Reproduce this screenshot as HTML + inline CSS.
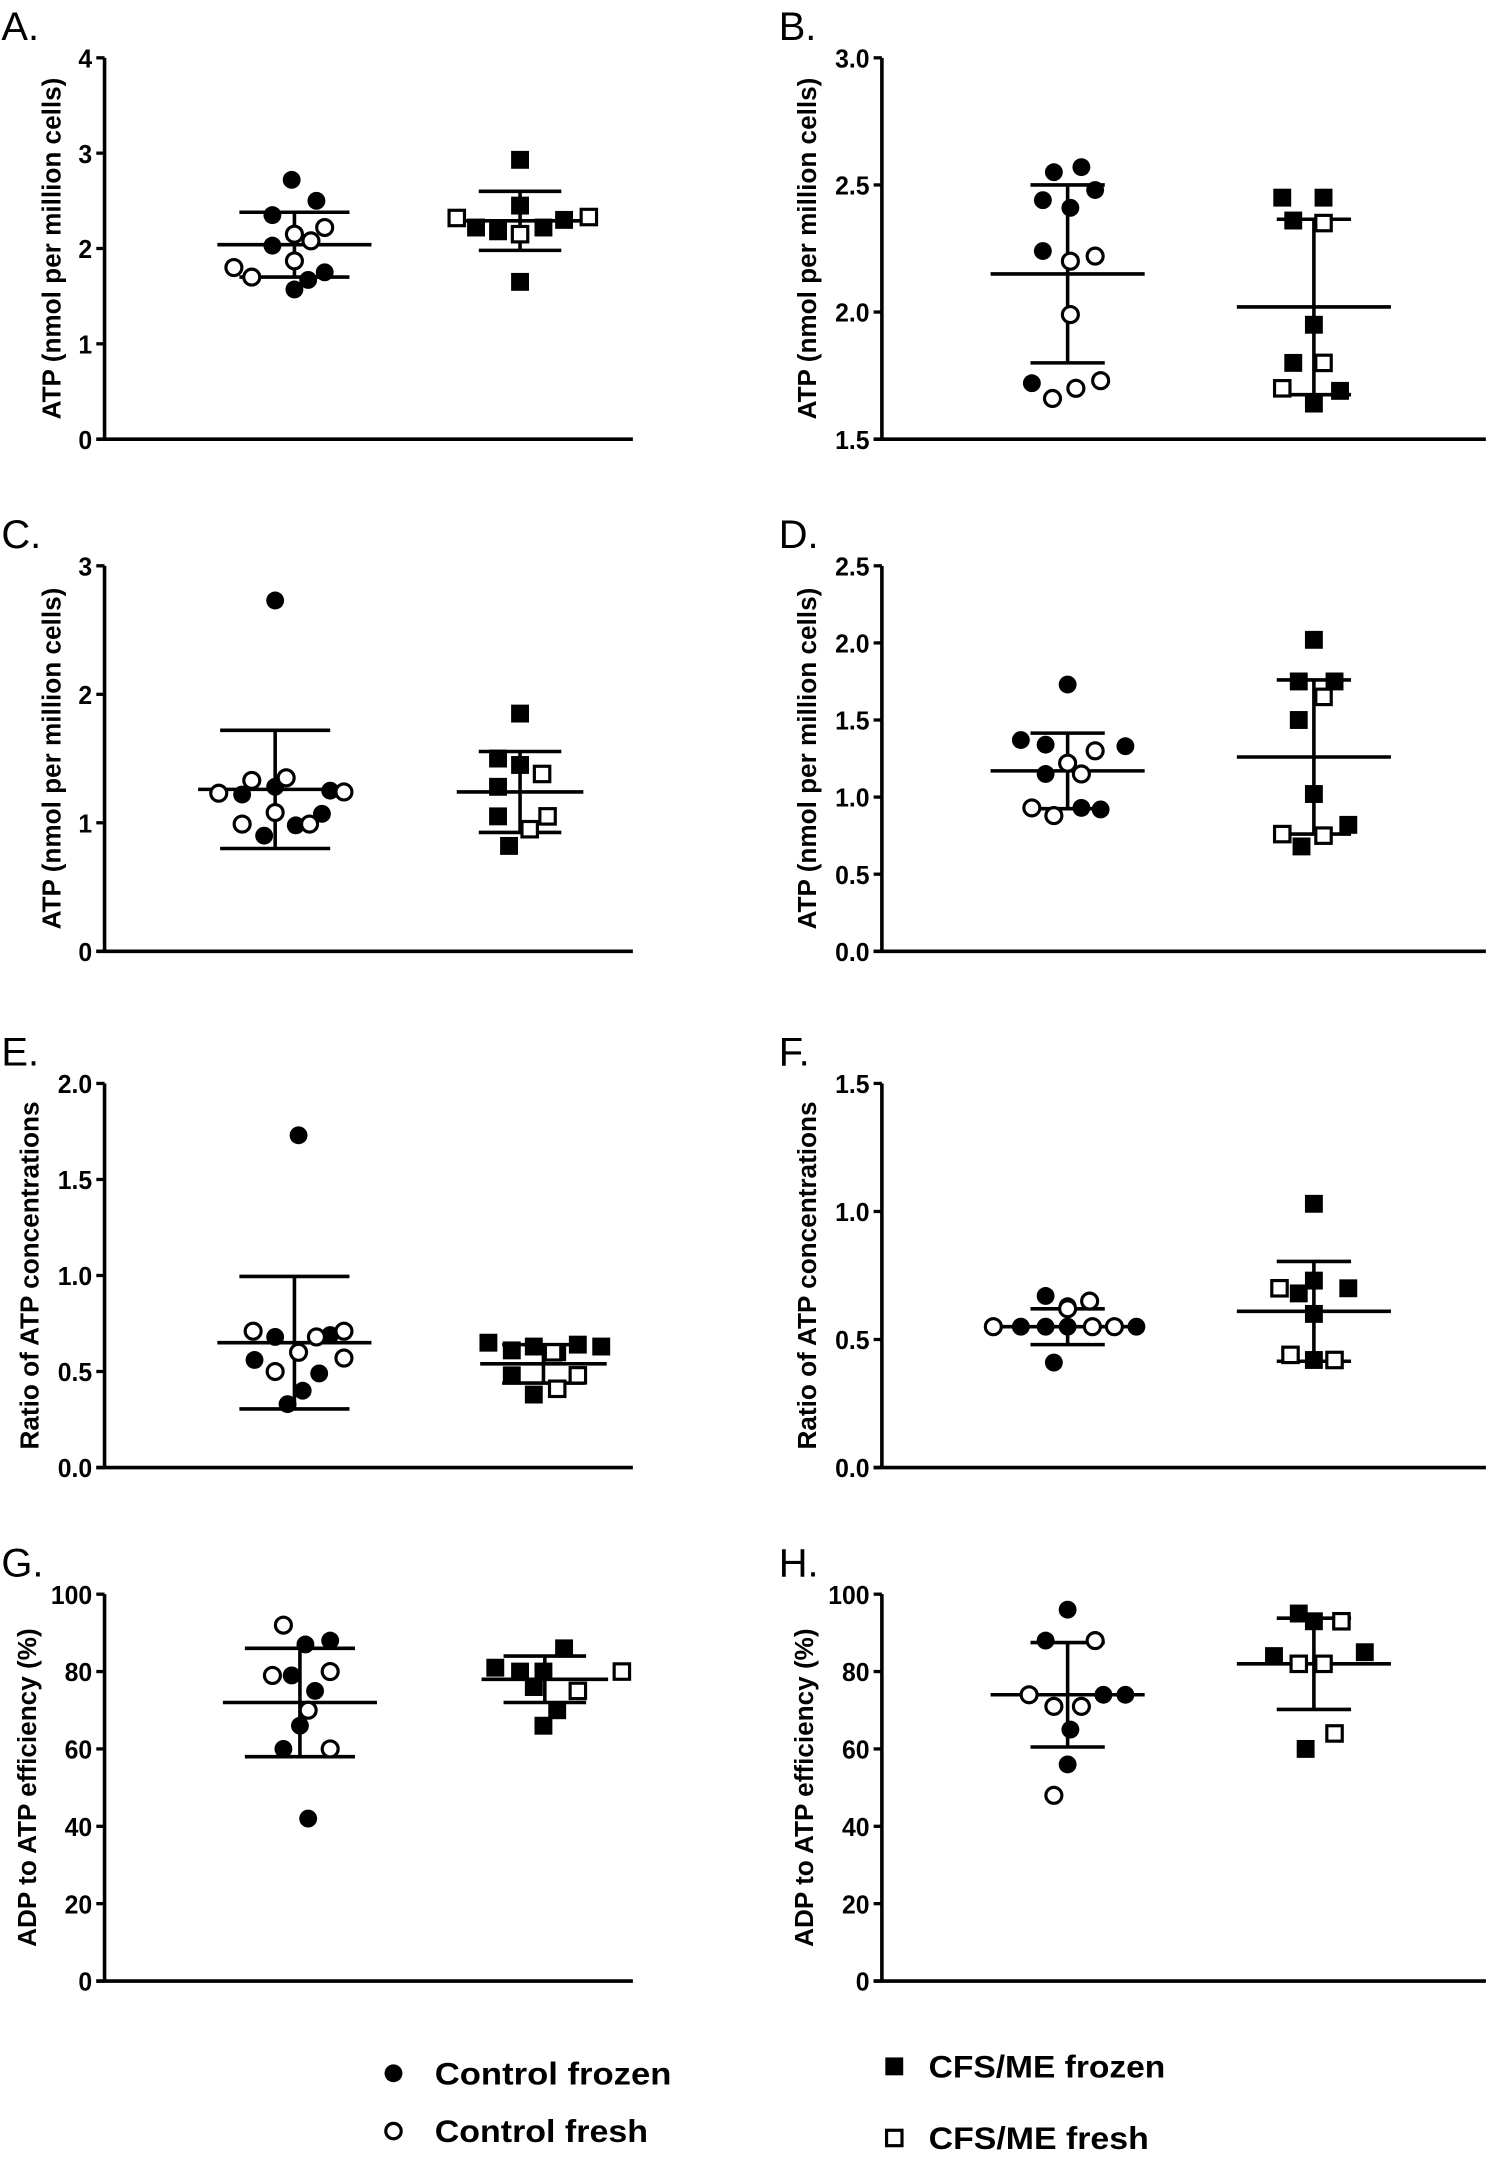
<!DOCTYPE html>
<html><head><meta charset="utf-8"><style>
html,body{margin:0;padding:0;background:#fff;}
svg{display:block;}
text{font-family:"Liberation Sans",sans-serif;font-weight:bold;fill:#000;}
</style></head><body>
<svg id="fig" width="1490" height="2160" viewBox="0 0 1083 1569" preserveAspectRatio="none" xmlns="http://www.w3.org/2000/svg"></svg>
<script>
// ---- data; type: 1 = frozen (filled), 0 = fresh (open) ----
const aCtrlVals=[2.72,2.5,2.35,2.03,1.75,1.67,1.57,2.22,2.15,2.08,1.87,1.8,1.7];
const aCtrlType=[1,1,1,1,1,1,1,0,0,0,0,0,0];
const aCtrlJit=[-2,16,-16,-16,22,10,0,22,0,12,0,-44,-31];
const aCfsVals=[2.93,2.45,2.22,2.18,2.22,2.3,1.65,2.32,2.33,2.15];
const aCfsType=[1,1,1,1,1,1,1,0,0,0];
const aCfsJit=[0,0,-32,-16,17,32,0,-46,50,0];
const aStats=[[2.04,0.34],[2.29,0.31]];

const bCtrlVals=[2.57,2.55,2.48,2.44,2.41,2.24,1.72,2.22,2.2,1.99,1.73,1.70,1.66];
const bCtrlType=[1,1,1,1,1,1,1,0,0,0,0,0,0];
const bCtrlJit=[10,-10,20,-18,2,-18,-26,20,2,2,24,6,-11];
const bCfsVals=[2.45,2.45,2.36,1.95,1.80,1.69,1.64,2.35,1.80,1.70];
const bCfsType=[1,1,1,1,1,1,1,0,0,0];
const bCfsJit=[-23,7,-15,0,-15,19,0,7,7,-23];
const bStats=[[2.15,0.35],[2.02,0.345]];

const cCtrlVals=[2.73,1.22,1.28,1.25,0.9,0.98,1.07,1.23,1.33,1.35,1.24,0.99,1.08,0.99];
const cCtrlType=[1,1,1,1,1,1,1,0,0,0,0,0,0,0];
const cCtrlJit=[0,-24,0,40,-8,15,34,-41,-17,8,50,-24,0,25];
const cCfsVals=[1.85,1.5,1.45,1.28,1.05,0.82,1.38,1.05,0.95];
const cCfsType=[1,1,1,1,1,1,0,0,0];
const cCfsJit=[0,-16,0,-16,-16,-8,16,20,7];
const cStats=[[1.26,0.46],[1.24,0.315]];

const dCtrlVals=[1.73,1.37,1.34,1.33,1.15,0.92,0.93,1.3,1.22,1.15,0.93,0.88];
const dCtrlType=[1,1,1,1,1,1,1,0,0,0,0,0];
const dCtrlJit=[0,-34,-16,42,-16,24,10,20,0,10,-26,-10];
const dCfsVals=[2.02,1.75,1.75,1.5,1.02,0.82,0.68,1.65,0.76,0.75];
const dCfsType=[1,1,1,1,1,1,1,0,0,0];
const dCfsJit=[0,-11,15,-11,0,25,-9,7,-23,7];
const dStats=[[1.17,0.245],[1.26,0.5]];

const eCtrlVals=[1.73,0.68,0.69,0.56,0.49,0.4,0.33,0.71,0.68,0.71,0.6,0.57,0.5];
const eCtrlType=[1,1,1,1,1,1,1,0,0,0,0,0,0];
const eCtrlJit=[3,-14,26,-29,18,6,-5,-30,16,36,3,36,-14];
const eCfsVals=[0.65,0.61,0.63,0.6,0.64,0.63,0.48,0.38,0.6,0.48,0.41];
const eCfsType=[1,1,1,1,1,1,1,1,0,0,0];
const eCfsJit=[-40,-23,-7,10,25,42,-23,-7,7,25,10];
const eStats=[[0.65,0.345],[0.54,0.1]];

const fCtrlVals=[0.67,0.63,0.55,0.55,0.55,0.55,0.41,0.65,0.62,0.55,0.55,0.55];
const fCtrlType=[1,1,1,1,1,1,1,0,0,0,0,0];
const fCtrlJit=[-16,0,-34,-16,0,50,-10,16,0,-54,18,34];
const fCfsVals=[1.03,0.73,0.70,0.60,0.42,0.68,0.70,0.44,0.42];
const fCfsType=[1,1,1,1,1,1,0,0,0];
const fCfsJit=[0,0,25,0,0,-11,-25,-17,15];
const fStats=[[0.55,0.07],[0.61,0.195]];

const gCtrlVals=[88,87,79,75,66,60,42,92,79,80,70,60];
const gCtrlType=[1,1,1,1,1,1,1,0,0,0,0,0];
const gCtrlJit=[22,4,-6,11,0,-12,6,-12,-20,22,6,22];
const gCfsVals=[86,81,80,80,76,70,66,80,75];
const gCfsType=[1,1,1,1,1,1,1,0,0];
const gCfsJit=[14,-36,-18,-1,-8,9,-1,56,24];
const gStats=[[72,14],[78,6]];

const hCtrlVals=[96,88,74,74,65,56,88,74,71,71,48];
const hCtrlType=[1,1,1,1,1,1,0,0,0,0,0];
const hCtrlJit=[0,-16,26,42,2,0,20,-28,-10,10,-10];
const hCfsVals=[95,93,84,85,60,93,82,82,64];
const hCfsType=[1,1,1,1,1,0,0,0,0];
const hCfsJit=[-11,0,-29,37,-6,20,-11,7,15];
const hStats=[[74,13.5],[82,11.8]];

const ticksA=[0,1,2,3,4], ticksB=[1.5,2.0,2.5,3.0], ticksC=[0,1,2,3], ticksD=[0,0.5,1.0,1.5,2.0,2.5];
const ticksE=[0,0.5,1.0,1.5,2.0], ticksF=[0,0.5,1.0,1.5], ticksG=[0,20,40,60,80,100];

// ---- layout ----
const panels=[
 {id:'a',label:'A.',ax:76,top:42,bot:319,min:0,max:4,ticks:ticksA,dec:0,title:'ATP (nmol per million cells)',cx:[214,378],c:[aCtrlVals,aCtrlType,aCtrlJit],s:[aCfsVals,aCfsType,aCfsJit],st:aStats},
 {id:'b',label:'B.',ax:641,top:42,bot:319,min:1.5,max:3,ticks:ticksB,dec:1,title:'ATP (nmol per million cells)',cx:[776,955],c:[bCtrlVals,bCtrlType,bCtrlJit],s:[bCfsVals,bCfsType,bCfsJit],st:bStats},
 {id:'c',label:'C.',ax:76,top:411,bot:691,min:0,max:3,ticks:ticksC,dec:0,title:'ATP (nmol per million cells)',cx:[200,378],c:[cCtrlVals,cCtrlType,cCtrlJit],s:[cCfsVals,cCfsType,cCfsJit],st:cStats},
 {id:'d',label:'D.',ax:641,top:411,bot:691,min:0,max:2.5,ticks:ticksD,dec:1,title:'ATP (nmol per million cells)',cx:[776,955],c:[dCtrlVals,dCtrlType,dCtrlJit],s:[dCfsVals,dCfsType,dCfsJit],st:dStats},
 {id:'e',label:'E.',ax:76,top:787,bot:1066,min:0,max:2,ticks:ticksE,dec:1,title:'Ratio of ATP concentrations',cx:[214,395],c:[eCtrlVals,eCtrlType,eCtrlJit],s:[eCfsVals,eCfsType,eCfsJit],st:eStats},
 {id:'f',label:'F.',ax:641,top:787,bot:1066,min:0,max:1.5,ticks:ticksF,dec:1,title:'Ratio of ATP concentrations',cx:[776,955],c:[fCtrlVals,fCtrlType,fCtrlJit],s:[fCfsVals,fCfsType,fCfsJit],st:fStats},
 {id:'g',label:'G.',ax:76,top:1158,bot:1439,min:0,max:100,ticks:ticksG,dec:0,title:'ADP to ATP efficiency (%)',cx:[218,396],c:[gCtrlVals,gCtrlType,gCtrlJit],s:[gCfsVals,gCfsType,gCfsJit],st:gStats},
 {id:'h',label:'H.',ax:641,top:1158,bot:1439,min:0,max:100,ticks:ticksG,dec:0,title:'ADP to ATP efficiency (%)',cx:[776,955],c:[hCtrlVals,hCtrlType,hCtrlJit],s:[hCfsVals,hCfsType,hCfsJit],st:hStats}
];
const NS='http://www.w3.org/2000/svg';
const svg=document.getElementById('fig');
function mk(tag,attrs,parent){const e=document.createElementNS(NS,tag);for(const k in attrs)e.setAttribute(k,attrs[k]);(parent||svg).appendChild(e);return e;}

panels.forEach(p=>{
 const g=mk('g',{});
 
 
 const y=v=>p.bot-(v-p.min)/(p.max-p.min)*(p.bot-p.top);
 const lab=mk('text',{x:p.ax-75,y:p.top-13,'font-size':29,style:'font-weight:normal'},g);
 lab.textContent=p.label;
 
 
 const yax=mk('line',{x1:p.ax,y1:p.top,x2:p.ax,y2:p.bot+1,stroke:'#000','stroke-width':2.6},g);
 
 
 const xax=mk('line',{x1:p.ax-6,y1:p.bot,x2:p.ax+(p.ax<300?384:439),y2:p.bot,stroke:'#000','stroke-width':2.6},g);
 
 
 p.ticks.forEach(t=>{
  const tk=mk('line',{x1:p.ax-6,y1:y(t),x2:p.ax,y2:y(t),stroke:'#000','stroke-width':2.4},g);
  
  
  const s=t.toFixed(p.dec);
  let w=0;for(const ch of s)w+=(ch==='.'?5:10);
  const tl=mk('text',{x:p.ax-9,y:y(t)+7,'font-size':19,'text-anchor':'end',textLength:w,lengthAdjust:'spacingAndGlyphs'},g);
  tl.textContent=s;
  
  
 });
 const ty=(p.top+p.bot)/2;
 const tx=p.ax-(p.dec?48:(p.max>=100?50:32));
 const tt=mk('text',{x:tx,y:ty,'font-size':19,'text-anchor':'middle',transform:'rotate(-90 '+tx+' '+ty+')'},g);
 tt.textContent=p.title;
 
 
 [p.c,p.s].forEach((grp,gi)=>{
  const cx=p.cx[gi];
  const [m,sd]=p.st[gi];
  const w=gi===0?56:(p.ax<300?46:56);
  const cw=gi===0?(p.ax<300?40:27):(p.ax<300?30:27);
  const st={stroke:'#000','stroke-width':2.6};
  const ml=mk('line',Object.assign({x1:cx-w,y1:y(m),x2:cx+w,y2:y(m)},st),g);
  
  
  const vl=mk('line',Object.assign({x1:cx,y1:y(m+sd),x2:cx,y2:y(m-sd)},st),g);
  
  
  [m+sd,m-sd].forEach(v=>{
   const cp=mk('line',Object.assign({x1:cx-cw,y1:y(v),x2:cx+cw,y2:y(v)},st),g);
   
   
  });
  const [vals,types,jit]=grp;
  vals.forEach((v,i)=>{
   const px=cx+jit[i], py=y(v), filled=types[i]===1;
   let e;
   if(gi===0) e=mk('circle',{cx:px,cy:py,r:filled?6.5:5.8,fill:filled?'#000':'#fff',stroke:'#000','stroke-width':filled?0:2.3},g);
   else e=mk('rect',{x:px-(filled?6.5:5.6),y:py-(filled?6.5:5.6),width:filled?13:11.2,height:filled?13:11.2,fill:filled?'#000':'#fff',stroke:'#000','stroke-width':filled?0:2.3},g);
   
   
  });
 });
});
// legend
const legendItems=[['Control frozen',286,1506,'circle',1],['Control fresh',286,1548,'circle',0],['CFS/ME frozen',650,1501,'rect',1],['CFS/ME fresh',650,1553,'rect',0]];
legendItems.forEach(it=>{
 const [txt,x,yy,shape,filled]=it;
 const g=mk('g',{});
 
 
 if(shape==='circle') mk('circle',{cx:x,cy:yy,r:filled?6.5:5.6,fill:filled?'#000':'#fff',stroke:'#000','stroke-width':filled?0:2.3},g);
 else mk('rect',{x:x-(filled?6.5:5.6),y:yy-(filled?6.5:5.6),width:filled?13:11.2,height:filled?13:11.2,fill:filled?'#000':'#fff',stroke:'#000','stroke-width':filled?0:2.3},g);
 const t=mk('text',{x:x+(shape==='circle'?30:25),y:yy+8,'font-size':23,textLength:shape==='circle'?(txt.length>13?172:155):(txt.length>12?172:160),lengthAdjust:'spacingAndGlyphs'},g);
 t.textContent=txt;
});
</script>
</body></html>
